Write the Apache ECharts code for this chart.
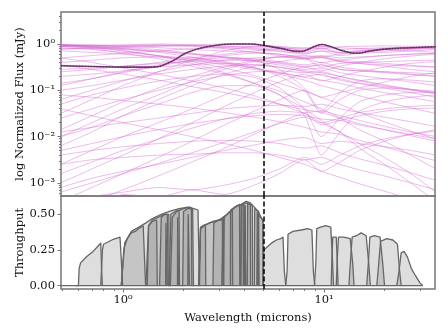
<!DOCTYPE html>
<html>
<head>
<meta charset="utf-8">
<script src="https://cdn.jsdelivr.net/npm/echarts@6/dist/echarts.min.js"></script>
<style>
html, body { margin: 0; padding: 0; background: #fff; }
#chart { width: 448px; height: 336px; }
</style>
</head>
<body>
<div id="chart"></div>
<script>
// sample wavelengths (microns) shared by all model spectra
const wavelengths = [0.49, 0.7, 1.0, 1.5, 2.2, 3.2, 4.5, 6.0, 8.0, 9.7, 12, 15, 20, 27, 36]

// log10 normalized flux, one row per spectrum
const spectra = [
  [-0.02, -0.02, -0.03, -0.02, -0.03, -0.05, -0.06, -0.08, -0.12, -0.05, -0.12, -0.10, -0.08, -0.07, -0.07],
  [-0.05, -0.04, -0.02, 0.00, -0.02, -0.05, -0.08, -0.12, -0.18, -0.10, -0.20, -0.16, -0.12, -0.10, -0.09],
  [-0.03, -0.03, -0.05, -0.04, -0.02, 0.00, -0.02, -0.06, -0.15, -0.08, -0.18, -0.14, -0.10, -0.08, -0.06],
  [-0.10, -0.10, -0.08, -0.05, -0.04, -0.08, -0.12, -0.16, -0.22, -0.15, -0.25, -0.20, -0.18, -0.15, -0.12],
  [-0.02, -0.03, -0.05, -0.08, -0.12, -0.15, -0.18, -0.22, -0.28, -0.25, -0.30, -0.28, -0.25, -0.22, -0.20],
  [-0.02, -0.06, -0.10, -0.15, -0.22, -0.30, -0.38, -0.45, -0.55, -0.52, -0.62, -0.68, -0.75, -0.82, -0.90],
  [-0.05, -0.08, -0.12, -0.16, -0.22, -0.28, -0.32, -0.38, -0.45, -0.40, -0.50, -0.55, -0.60, -0.65, -0.70],
  [-0.08, -0.12, -0.18, -0.25, -0.33, -0.42, -0.52, -0.62, -0.72, -0.78, -0.85, -0.95, -1.05, -1.15, -1.25],
  [-0.02, -0.05, -0.10, -0.18, -0.28, -0.40, -0.52, -0.65, -0.78, -0.90, -1.00, -1.12, -1.25, -1.38, -1.50],
  [-0.15, -0.18, -0.22, -0.28, -0.35, -0.45, -0.55, -0.62, -0.70, -0.65, -0.78, -0.85, -0.92, -1.00, -1.05],
  [-0.03, -0.08, -0.15, -0.25, -0.38, -0.52, -0.68, -0.85, -1.02, -1.15, -1.30, -1.48, -1.68, -1.88, -2.05],
  [-0.05, -0.10, -0.20, -0.32, -0.48, -0.65, -0.85, -1.02, -1.25, -1.40, -1.60, -1.85, -2.10, -2.40, -2.70],
  [-0.02, -0.06, -0.14, -0.26, -0.42, -0.62, -0.85, -1.10, -1.40, -1.65, -1.90, -2.25, -2.60, -3.00, -3.40],
  [-0.55, -0.52, -0.48, -0.42, -0.38, -0.35, -0.36, -0.40, -0.48, -0.45, -0.55, -0.58, -0.62, -0.66, -0.70],
  [-0.70, -0.65, -0.58, -0.50, -0.45, -0.42, -0.45, -0.50, -0.58, -0.62, -0.70, -0.80, -0.90, -0.98, -1.05],
  [-0.85, -0.75, -0.62, -0.48, -0.35, -0.25, -0.20, -0.22, -0.30, -0.28, -0.38, -0.42, -0.45, -0.48, -0.50],
  [-1.00, -0.90, -0.78, -0.65, -0.55, -0.48, -0.45, -0.50, -0.60, -0.68, -0.75, -0.85, -0.95, -1.05, -1.15],
  [-0.45, -0.55, -0.65, -0.78, -0.92, -1.05, -1.18, -1.30, -1.42, -1.48, -1.60, -1.72, -1.85, -1.98, -2.10],
  [-1.50, -1.20, -0.90, -0.60, -0.35, -0.15, -0.05, -0.05, -0.10, -0.05, -0.08, -0.10, -0.12, -0.15, -0.18],
  [-1.85, -1.55, -1.25, -0.95, -0.70, -0.50, -0.35, -0.28, -0.25, -0.28, -0.22, -0.18, -0.15, -0.12, -0.10],
  [-2.20, -1.90, -1.55, -1.20, -0.90, -0.65, -0.48, -0.38, -0.32, -0.40, -0.35, -0.30, -0.25, -0.22, -0.20],
  [-2.60, -2.30, -2.00, -1.70, -1.40, -1.10, -0.85, -0.65, -0.50, -0.58, -0.48, -0.40, -0.32, -0.26, -0.22],
  [-1.20, -1.00, -0.80, -0.60, -0.45, -0.35, -0.30, -0.28, -0.32, -0.30, -0.38, -0.42, -0.48, -0.55, -0.60],
  [-3.00, -2.70, -2.40, -2.05, -1.70, -1.35, -1.05, -0.82, -0.65, -0.80, -0.70, -0.60, -0.50, -0.42, -0.38],
  [-2.00, -1.70, -1.40, -1.10, -0.80, -0.55, -0.38, -0.28, -0.30, -0.50, -0.42, -0.40, -0.38, -0.36, -0.35],
  [-3.40, -3.10, -2.80, -2.45, -2.10, -1.75, -1.45, -1.20, -1.00, -1.15, -1.05, -0.95, -0.82, -0.70, -0.62],
  [-1.60, -1.40, -1.20, -1.00, -0.82, -0.68, -0.60, -0.58, -0.62, -0.60, -0.70, -0.78, -0.88, -0.98, -1.08],
  [-1.90, -1.80, -1.70, -1.60, -1.50, -1.40, -1.35, -1.32, -1.35, -1.30, -1.40, -1.48, -1.58, -1.68, -1.78],
  [-2.30, -2.15, -2.00, -1.85, -1.72, -1.62, -1.55, -1.52, -1.55, -1.62, -1.65, -1.75, -1.85, -1.95, -2.05],
  [-2.80, -2.55, -2.30, -2.05, -1.82, -1.62, -1.50, -1.45, -1.48, -1.45, -1.55, -1.65, -1.78, -1.90, -2.00],
  [-3.10, -2.90, -2.75, -2.60, -2.45, -2.30, -2.18, -2.08, -2.02, -2.15, -2.10, -2.15, -2.22, -2.30, -2.40],
  [-1.40, -1.55, -1.70, -1.85, -2.00, -2.15, -2.30, -2.45, -2.60, -2.75, -2.88, -3.02, -3.18, -3.35, -3.50],
  [-3.50, -3.30, -3.20, -3.10, -3.15, -3.05, -2.90, -2.70, -2.45, -2.60, -2.40, -2.20, -2.05, -1.95, -1.88],
  [-4.00, -3.60, -3.25, -3.30, -3.15, -3.25, -3.05, -2.80, -2.50, -2.75, -2.55, -2.30, -2.10, -1.95, -1.85],
  [-2.60, -2.50, -2.45, -2.40, -2.38, -2.35, -2.35, -2.40, -2.50, -2.45, -2.60, -2.72, -2.85, -3.00, -3.15],
  [-0.90, -0.75, -0.60, -0.45, -0.35, -0.30, -0.35, -0.55, -0.95, -1.45, -1.05, -0.80, -0.75, -0.78, -0.82],
  [-1.30, -1.10, -0.95, -0.80, -0.70, -0.65, -0.72, -0.95, -1.40, -2.00, -1.60, -1.25, -1.10, -1.05, -1.05],
  [-2.00, -1.80, -1.55, -1.30, -1.05, -0.90, -0.90, -1.10, -1.55, -2.40, -1.90, -1.45, -1.25, -1.15, -1.10],
  [-0.40, -0.35, -0.30, -0.28, -0.30, -0.38, -0.50, -0.70, -1.00, -1.50, -1.20, -1.00, -0.95, -0.98, -1.02],
  [-0.60, -0.55, -0.48, -0.40, -0.30, -0.22, -0.15, -0.10, -0.08, -0.10, -0.06, -0.05, -0.04, -0.05, -0.05],
  [-0.30, -0.25, -0.20, -0.15, -0.10, -0.08, -0.10, -0.15, -0.20, -0.15, -0.18, -0.15, -0.12, -0.10, -0.08],
  [-0.12, -0.08, -0.05, -0.03, -0.05, -0.10, -0.18, -0.25, -0.32, -0.28, -0.35, -0.38, -0.42, -0.46, -0.50],
  [-0.02, -0.04, -0.08, -0.12, -0.20, -0.28, -0.35, -0.42, -0.50, -0.45, -0.55, -0.58, -0.60, -0.62, -0.65],
  [-3.20, -3.00, -2.80, -2.58, -2.35, -2.12, -1.90, -1.72, -1.58, -1.70, -1.60, -1.48, -1.40, -1.35, -1.32],
  [-2.40, -2.30, -2.22, -2.15, -2.10, -2.08, -2.10, -2.15, -2.25, -2.20, -2.35, -2.48, -2.62, -2.78, -2.95],
  [-1.10, -1.15, -1.22, -1.30, -1.38, -1.48, -1.58, -1.68, -1.80, -1.90, -1.95, -2.08, -2.22, -2.38, -2.52],
  [-0.30, -0.40, -0.52, -0.65, -0.80, -0.95, -1.12, -1.30, -1.50, -1.70, -1.90, -2.15, -2.45, -2.80, -3.20],
  [-3.60, -3.40, -3.15, -2.85, -2.55, -2.25, -1.95, -1.70, -1.50, -1.75, -1.65, -1.55, -1.45, -1.40, -1.38]
]

// highlighted reference spectrum
const refWave = [0.49, 0.8, 1.1, 1.4, 1.7, 2.1, 2.7, 3.6, 4.3, 5.0, 6.0, 7.6, 8.3, 9.0, 9.8, 10.5, 12.5, 14.5, 17, 20, 27, 36]
const refLogFlux = [-0.47, -0.49, -0.50, -0.50, -0.40, -0.18, -0.05, 0.0, 0.0, -0.03, -0.09, -0.16, -0.12, -0.05, -0.01, -0.04, -0.15, -0.20, -0.15, -0.11, -0.08, -0.06]

const cutWave = 5.0

// filter curves: [wavelength (microns), throughput]
const filters = [
  ['F070W', [[0.58, 0], [0.60, 0], [0.605, 0.12], [0.615, 0.16], [0.66, 0.205], [0.71, 0.24], [0.76, 0.285], [0.775, 0.30], [0.783, 0.1], [0.79, 0]]],
  ['F090W', [[0.775, 0], [0.783, 0], [0.79, 0.25], [0.80, 0.29], [0.895, 0.325], [0.966, 0.34], [0.98, 0.34], [0.988, 0.1], [0.995, 0]]],
  ['F115W', [[0.98, 0], [1.0, 0], [1.01, 0.26], [1.05, 0.33], [1.10, 0.37], [1.15, 0.38], [1.20, 0.40], [1.26, 0.42], [1.28, 0.42], [1.295, 0], [1.31, 0]]],
  ['F150W2', [[0.98, 0], [1.0, 0], [1.02, 0.30], [1.10, 0.38], [1.20, 0.41], [1.30, 0.44], [1.40, 0.47], [1.55, 0.50], [1.70, 0.52], [1.90, 0.54], [2.10, 0.55], [2.25, 0.54], [2.36, 0.53], [2.40, 0], [2.43, 0]]],
  ['F140M', [[1.32, 0], [1.33, 0], [1.34, 0.42], [1.40, 0.45], [1.47, 0.46], [1.48, 0], [1.49, 0]]],
  ['F150W', [[1.30, 0], [1.32, 0], [1.34, 0.42], [1.40, 0.46], [1.50, 0.48], [1.60, 0.50], [1.66, 0.50], [1.68, 0], [1.70, 0]]],
  ['F162M', [[1.52, 0], [1.54, 0], [1.55, 0.48], [1.62, 0.50], [1.69, 0.50], [1.70, 0], [1.72, 0]]],
  ['F164N', [[1.63, 0], [1.635, 0.44], [1.655, 0.44], [1.66, 0]]],
  ['F182M', [[1.70, 0], [1.72, 0], [1.73, 0.50], [1.82, 0.52], [1.90, 0.53], [1.91, 0], [1.93, 0]]],
  ['F187N', [[1.865, 0], [1.87, 0.48], [1.885, 0.48], [1.89, 0]]],
  ['F200W', [[1.72, 0], [1.75, 0], [1.76, 0.48], [1.85, 0.52], [2.0, 0.54], [2.15, 0.55], [2.22, 0.54], [2.24, 0], [2.26, 0]]],
  ['F210M', [[1.98, 0], [1.99, 0], [2.0, 0.52], [2.10, 0.54], [2.19, 0.54], [2.20, 0], [2.22, 0]]],
  ['F212N', [[2.10, 0], [2.11, 0.50], [2.13, 0.50], [2.14, 0]]],
  ['F250M', [[2.40, 0], [2.42, 0], [2.43, 0.40], [2.50, 0.42], [2.57, 0.43], [2.58, 0], [2.60, 0]]],
  ['F277W', [[2.38, 0], [2.41, 0], [2.43, 0.40], [2.60, 0.43], [2.80, 0.45], [3.00, 0.46], [3.12, 0.46], [3.14, 0], [3.16, 0]]],
  ['F322W2', [[2.38, 0], [2.41, 0], [2.43, 0.41], [2.70, 0.44], [3.0, 0.46], [3.3, 0.50], [3.6, 0.55], [3.9, 0.57], [4.05, 0.56], [4.08, 0], [4.10, 0]]],
  ['F300M', [[2.80, 0], [2.82, 0], [2.83, 0.44], [3.00, 0.46], [3.16, 0.47], [3.17, 0], [3.19, 0]]],
  ['F335M', [[3.16, 0], [3.18, 0], [3.19, 0.48], [3.35, 0.51], [3.50, 0.53], [3.51, 0], [3.53, 0]]],
  ['F356W', [[3.10, 0], [3.13, 0], [3.14, 0.47], [3.40, 0.52], [3.70, 0.56], [3.96, 0.57], [3.98, 0], [4.0, 0]]],
  ['F360M', [[3.42, 0], [3.43, 0.53], [3.60, 0.55], [3.80, 0.57], [3.81, 0], [3.83, 0]]],
  ['F405N', [[4.02, 0], [4.03, 0.56], [4.07, 0.56], [4.08, 0]]],
  ['F410M', [[3.85, 0], [3.87, 0], [3.88, 0.57], [4.10, 0.58], [4.30, 0.57], [4.31, 0], [4.33, 0]]],
  ['F430M', [[4.15, 0], [4.17, 0.57], [4.30, 0.57], [4.40, 0.56], [4.41, 0], [4.43, 0]]],
  ['F444W', [[3.85, 0], [3.87, 0], [3.88, 0.57], [4.10, 0.59], [4.30, 0.58], [4.50, 0.55], [4.70, 0.52], [4.90, 0.47], [4.97, 0.45], [4.99, 0], [5.02, 0]]],
  ['F460M', [[4.50, 0], [4.52, 0.54], [4.62, 0.53], [4.73, 0.52], [4.74, 0], [4.76, 0]]],
  ['F466N', [[4.64, 0], [4.65, 0.52], [4.68, 0.52], [4.69, 0]]],
  ['F470N', [[4.69, 0], [4.70, 0.51], [4.73, 0.51], [4.74, 0]]],
  ['F480M', [[4.65, 0], [4.67, 0], [4.68, 0.50], [4.82, 0.48], [4.96, 0.46], [4.97, 0], [4.99, 0]]],
  ['F560W', [[4.95, 0], [5.0, 0], [5.02, 0.25], [5.2, 0.27], [5.5, 0.30], [5.8, 0.32], [6.1, 0.33], [6.25, 0.34], [6.35, 0.1], [6.45, 0]]],
  ['F770W', [[6.45, 0], [6.55, 0.1], [6.62, 0.36], [7.0, 0.38], [7.7, 0.39], [8.3, 0.40], [8.7, 0.39], [8.85, 0.1], [9.0, 0]]],
  ['F1000W', [[8.95, 0], [9.1, 0.15], [9.2, 0.40], [9.6, 0.41], [10.2, 0.42], [10.8, 0.41], [11.0, 0.2], [11.15, 0]]],
  ['F1130W', [[10.85, 0], [10.95, 0.2], [11.05, 0.34], [11.5, 0.34], [11.65, 0.15], [11.75, 0]]],
  ['F1280W', [[11.5, 0], [11.65, 0.2], [11.8, 0.34], [12.5, 0.34], [13.5, 0.33], [13.9, 0.15], [14.1, 0]]],
  ['F1500W', [[13.3, 0], [13.5, 0.15], [13.8, 0.34], [14.5, 0.35], [15.3, 0.37], [16.2, 0.35], [16.7, 0.15], [17.0, 0]]],
  ['F1800W', [[16.3, 0], [16.6, 0.15], [16.9, 0.34], [17.8, 0.35], [19.0, 0.34], [19.6, 0.15], [20.0, 0]]],
  ['F2100W', [[18.3, 0], [18.7, 0.15], [19.1, 0.31], [20.5, 0.33], [22.0, 0.32], [23.2, 0.29], [23.7, 0.12], [24.2, 0]]],
  ['F2550W', [[23.0, 0], [23.6, 0.10], [24.2, 0.23], [25.0, 0.24], [26.0, 0.20], [27.2, 0.12], [28.5, 0.07], [30.0, 0.02], [31.0, 0]]]
]
const baseline = [[0.49, 0], [31.0, 0]]

const waveTicks = [1, 10]
const waveMinorTicks = [0.5, 0.6, 0.7, 0.8, 0.9, 2, 3, 4, 5, 6, 7, 8, 9, 20, 30]
const fluxTicks = [-3, -2, -1, 0]
const throughputTicks = [0, 0.25, 0.5]

const lg = Math.log10
const X_MIN = -0.3085
const X_MAX = 1.552
const Y_MIN = -3.283
const Y_MAX = 0.691
const FONT = 'DejaVu Serif'
const SPINE = '#777'

const sup = { '-': '⁻', '0': '⁰', '1': '¹', '2': '²', '3': '³', '4': '⁴' }
const pow10 = (v) => '10' + String(Math.round(v)).split('').map(c => sup[c]).join('')

let fluxMinor = []
for (let n = -4; n <= 0; n++) {
  for (let k = 2; k <= 9; k++) {
    const v = lg(k) + n
    if (v > Y_MIN && v < Y_MAX) fluxMinor.push(v)
  }
}

const series = []
spectra.forEach((row) => {
  series.push({
    type: 'line', xAxisIndex: 0, yAxisIndex: 0,
    data: wavelengths.map((w, j) => [lg(w), row[j]]),
    symbol: 'none', smooth: 0.2, silent: true, z: 2,
    lineStyle: { color: 'rgba(214,104,210,0.45)', width: 1 }
  })
})
series.push({
  type: 'line', xAxisIndex: 0, yAxisIndex: 0,
  data: refWave.map((w, j) => [lg(w), refLogFlux[j]]),
  symbol: 'none', smooth: true, silent: true, z: 3,
  lineStyle: { color: '#8e3f8c', width: 1.6 }
})
series.push({
  type: 'line', xAxisIndex: 0, yAxisIndex: 0,
  data: refWave.map((w, j) => [lg(w), refLogFlux[j]]),
  symbol: 'none', smooth: true, silent: true, z: 4,
  lineStyle: { color: '#333', width: 1, type: [1.5, 1.5] }
})
filters.forEach(([name, pts]) => {
  series.push({
    name: name, type: 'line', xAxisIndex: 1, yAxisIndex: 2,
    data: pts.map(p => [lg(p[0]), p[1]]),
    symbol: 'none', silent: true, z: 2,
    lineStyle: { color: '#666', width: 1.3 },
    areaStyle: { color: 'rgba(128,128,128,0.37)' }
  })
})
series.push({
  type: 'line', xAxisIndex: 1, yAxisIndex: 2,
  data: baseline.map(p => [lg(p[0]), p[1]]),
  symbol: 'none', silent: true, z: 2,
  lineStyle: { color: '#666', width: 1.3 }
})
// dashed cut line in both panels
;[[0, 0], [1, 2]].forEach(([xi, yi]) => {
  series.push({
    type: 'line', xAxisIndex: xi, yAxisIndex: yi, data: [], z: 10,
    markLine: {
      silent: true, symbol: 'none', label: { show: false },
      lineStyle: { color: '#000', type: [5, 2.5], width: 1.5 },
      data: [{ xAxis: lg(cutWave) }]
    }
  })
})

const noLine = { show: false, onZero: false }
const tickStyle = { lineStyle: { color: SPINE, width: 1 } }
const labelStyle = { fontFamily: FONT, fontSize: 11.5, color: '#111' }
const nameStyle = { fontFamily: FONT, fontSize: 11.5, color: '#111' }

const chart = echarts.init(document.getElementById('chart'), null, { renderer: 'canvas' })
chart.setOption({
  animation: false,
  backgroundColor: '#fff',
  grid: [
    { left: 61, top: 12, width: 374, height: 184, show: true, borderColor: SPINE, borderWidth: 1.5 },
    { left: 61, top: 196, width: 374, height: 93, show: true, borderColor: SPINE, borderWidth: 1.5 }
  ],
  xAxis: [
    {
      gridIndex: 0, type: 'value', position: 'bottom', min: X_MIN, max: X_MAX,
      axisLine: noLine, axisLabel: { show: false }, axisTick: { show: false }, splitLine: { show: false }
    },
    {
      gridIndex: 1, type: 'value', position: 'bottom', min: X_MIN, max: X_MAX,
      axisLine: noLine, splitLine: { show: false },
      axisTick: { show: true, length: 3.5, customValues: waveTicks.map(lg), ...tickStyle },
      axisLabel: { customValues: waveTicks.map(lg), formatter: pow10, margin: 5, ...labelStyle },
      name: 'Wavelength (microns)', nameLocation: 'middle', nameGap: 23, nameTextStyle: nameStyle
    },
    {
      gridIndex: 1, type: 'value', position: 'bottom', min: X_MIN, max: X_MAX,
      axisLine: noLine, splitLine: { show: false }, axisLabel: { show: false },
      axisTick: { show: true, length: 2, customValues: waveMinorTicks.map(lg), ...tickStyle }
    }
  ],
  yAxis: [
    {
      gridIndex: 0, type: 'value', position: 'left', min: Y_MIN, max: Y_MAX,
      axisLine: noLine, splitLine: { show: false },
      axisTick: { show: true, length: 3.5, customValues: fluxTicks, ...tickStyle },
      axisLabel: { customValues: fluxTicks, formatter: pow10, margin: 6, ...labelStyle },
      name: 'log Normalized Flux (mJy)', nameLocation: 'middle', nameGap: 35, nameRotate: 90,
      nameMoveOverlap: false, nameTextStyle: nameStyle
    },
    {
      gridIndex: 0, type: 'value', position: 'left', min: Y_MIN, max: Y_MAX,
      axisLine: noLine, splitLine: { show: false }, axisLabel: { show: false },
      axisTick: { show: true, length: 2, customValues: fluxMinor, ...tickStyle }
    },
    {
      gridIndex: 1, type: 'value', position: 'left', min: -0.023, max: 0.628,
      axisLine: noLine, splitLine: { show: false },
      axisTick: { show: true, length: 3.5, customValues: throughputTicks, ...tickStyle },
      axisLabel: { customValues: throughputTicks, formatter: v => v.toFixed(2), margin: 6, ...labelStyle },
      name: 'Throughput', nameLocation: 'middle', nameGap: 35, nameRotate: 90,
      nameMoveOverlap: false, nameTextStyle: nameStyle
    }
  ],
  series: series
})
</script>
</body>
</html>
